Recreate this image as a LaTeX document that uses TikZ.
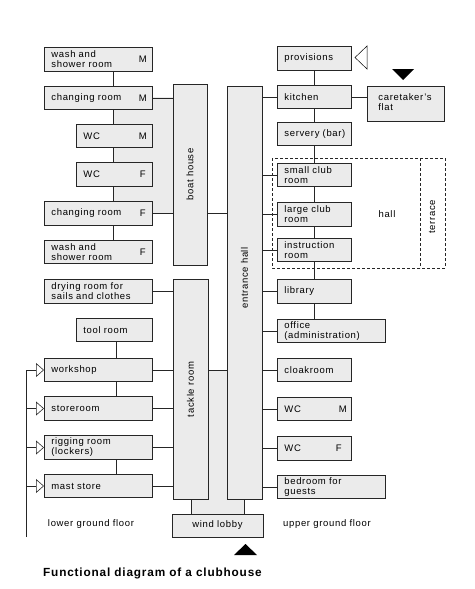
\documentclass[tikz,border=0pt]{standalone}
\usepackage{fontspec}
\setmainfont{Liberation Sans}[LetterSpace=7]
\usetikzlibrary{arrows.meta, calc}

\definecolor{roomgray}{gray}{0.92}

\tikzset{
  room/.style={draw=black!85, line width=0.8pt, fill=roomgray, anchor=west,
    minimum height=23.5pt, inner xsep=7pt, inner ysep=0pt, align=left,
    font=\fontsize{9.5}{10}\selectfont},
  wide/.style={room, text width=94pt},
  short/.style={room, text width=62pt},
  mid/.style={room, text width=60pt},
  tall/.style={draw=black!85, line width=0.8pt, fill=roomgray, inner sep=0pt},
  sex/.style={font=\fontsize{9.5}{10}\selectfont, inner sep=0pt},
  wire/.style={line width=0.7pt, draw=black!85},
  feedarrow/.style={wire, -{Triangle[open, length=8pt, width=14pt, line width=0.6pt]}},
  floorlabel/.style={font=\fontsize{9.5}{10}\selectfont, inner sep=0pt}
}

\begin{document}
\begin{tikzpicture}[x=1pt, y=-1pt]
\useasboundingbox (0,0) rectangle (474,589);

% shaded corridors behind the rooms
\fill[roomgray] (113,97) rectangle (173,213);
\fill[roomgray] (207,370) rectangle (228,500);
\fill[roomgray] (191,499) rectangle (244,514);
\draw[wire] (191,499) -- (191,514);
\draw[wire] (244,499) -- (244,514);

% lower ground floor, upper part
\node[wide]  (wsM) at (44,59.5) {wash and\\shower room};
\node[wide]  (chM) at (44,98)   {changing room};
\node[short] (wcM) at (76,136)  {WC};
\node[short] (wcF) at (76,174.5) {WC};
\node[wide]  (chF) at (44,213.5) {changing room};
\node[wide]  (wsF) at (44,252)  {wash and\\shower room};
\foreach \n/\s in {wsM/M, chM/M, wcM/M, wcF/F, chF/F, wsF/F}
  \node[sex] (\n tag) at ($(\n.east)+(-10,0)$) {\s};

% lower ground floor, lower part
\node[wide]  (drying)   at (44,291.5) {drying room for\\sails and clothes};
\node[short] (tool)     at (76,330)   {tool room};
\node[wide]  (workshop) at (44,370)   {workshop};
\node[wide]  (store)    at (44,408.5) {storeroom};
\node[wide]  (rigging)  at (44,447.5) {rigging room\\(lockers)};
\node[wide]  (mast)     at (44,486)   {mast store};

% the long halls
\node[tall, minimum width=34pt, minimum height=181pt] (boat)     at (190,174.5) {};
\node[tall, minimum width=35pt, minimum height=220pt] (tackle)   at (190.5,389) {};
\node[tall, minimum width=35pt, minimum height=413pt] (entrance) at (244.5,292.5) {};
\node[sex, rotate=90] (boatlbl)     at (190,174.5) {boat house};
\node[sex, rotate=90] (tacklelbl)   at (190.5,389.5) {tackle room};
\node[sex, rotate=90] (entrancelbl) at (244.5,278) {entrance hall};
\node[tall, minimum width=91pt, minimum height=23pt, font=\fontsize{9.5}{10}\selectfont] (lobby) at (217.5,525.5) {wind lobby};

% upper ground floor
\node[mid]  (prov)      at (277,58.5) {provisions};
\node[mid]  (kitchen)   at (277,97)   {kitchen};
\node[mid]  (servery)   at (277,134)  {servery (bar)};
\node[mid]  (smallclub) at (277,175)  {small club\\room};
\node[mid]  (largeclub) at (277,214.5) {large club\\room};
\node[mid]  (instr)     at (277,250)  {instruction\\room};
\node[mid]  (library)   at (277,291.5) {library};
\node[wide] (office)    at (277,331)  {office\\(administration)};
\node[mid]  (cloak)     at (277,370)  {cloakroom};
\node[mid]  (wcMr)      at (277,409)  {WC};
\node[mid]  (wcFr)      at (277,448.5) {WC};
\node[wide] (bedroom)   at (277,487)  {bedroom for\\guests};
\node[room, text width=55pt, inner xsep=11pt, minimum height=35pt] (caretaker) at (367,103.5) {caretaker's\\flat\vphantom{g}};
\node[sex] (wcMrtag) at ($(wcMr.east)+(-9,0)$) {M};
\node[sex] (wcFrtag) at ($(wcFr.east)+(-13,0)$) {F};

% hall and terrace
\draw[wire, dash pattern=on 3pt off 2pt] (272,158) rectangle (445,268);
\draw[wire, dash pattern=on 3pt off 2pt] (420,158) -- (420,268);
\node[sex] (halllbl) at (387,214) {hall};
\node[sex, rotate=90] (terracelbl) at (432,217) {terrace};

% vertical links
\coordinate (spineA) at (113,0);
\coordinate (spineB) at (116,0);
\coordinate (spineR) at (314,0);
\foreach \a/\b in {wsM/chM, chM/wcM, wcM/wcF, wcF/chF, chF/wsF}
  \draw[wire] (\a.south -| spineA) -- (\b.north -| spineA);
\foreach \a/\b in {tool/workshop, workshop/store, rigging/mast}
  \draw[wire] (\a.south -| spineB) -- (\b.north -| spineB);
\foreach \a/\b in {prov/kitchen, kitchen/servery, servery/smallclub, smallclub/largeclub, largeclub/instr, instr/library, library/office}
  \draw[wire] (\a.south -| spineR) -- (\b.north -| spineR);

% horizontal links
\foreach \n in {chM, chF}
  \draw[wire] (\n.east) -- (\n.east -| boat.west);
\draw[wire] (chF.east -| boat.east) -- (chF.east -| entrance.west);
\foreach \n in {drying, workshop, store, rigging, mast}
  \draw[wire] (\n.east) -- (\n.east -| tackle.west);
\draw[wire] (workshop.east -| tackle.east) -- (workshop.east -| entrance.west);
\foreach \n in {kitchen, smallclub, largeclub, instr, library, office, cloak, wcMr, wcFr, bedroom}
  \draw[wire] (entrance.east |- \n.west) -- (\n.west);
\draw[wire] (kitchen.east) -- (kitchen.east -| caretaker.west);

% deliveries from outside
\coordinate (feed) at (26,537);
\draw[wire] (feed) -- (feed |- workshop.west);
\foreach \n in {workshop, store, rigging, mast}
  \draw[feedarrow] (feed |- \n.west) -- (\n.west);

% entrances
\draw[line width=0.5pt, fill=white] (355,57.5) -- (367,46) -- (367,69) -- cycle;
\fill[black] (392,69) -- (414,69) -- (403,80) -- cycle;
\fill[black] (234,555) -- (257,555) -- (245.5,544) -- cycle;

\node[floorlabel] (lower) at (91,524) {lower ground floor};
\node[floorlabel] (upper) at (327,524) {upper ground floor};
\node[anchor=west, inner sep=0pt, font=\fontsize{11.8}{13}\selectfont\bfseries] (caption) at (43,573) {Functional diagram of a clubhouse};
\end{tikzpicture}
\end{document}
